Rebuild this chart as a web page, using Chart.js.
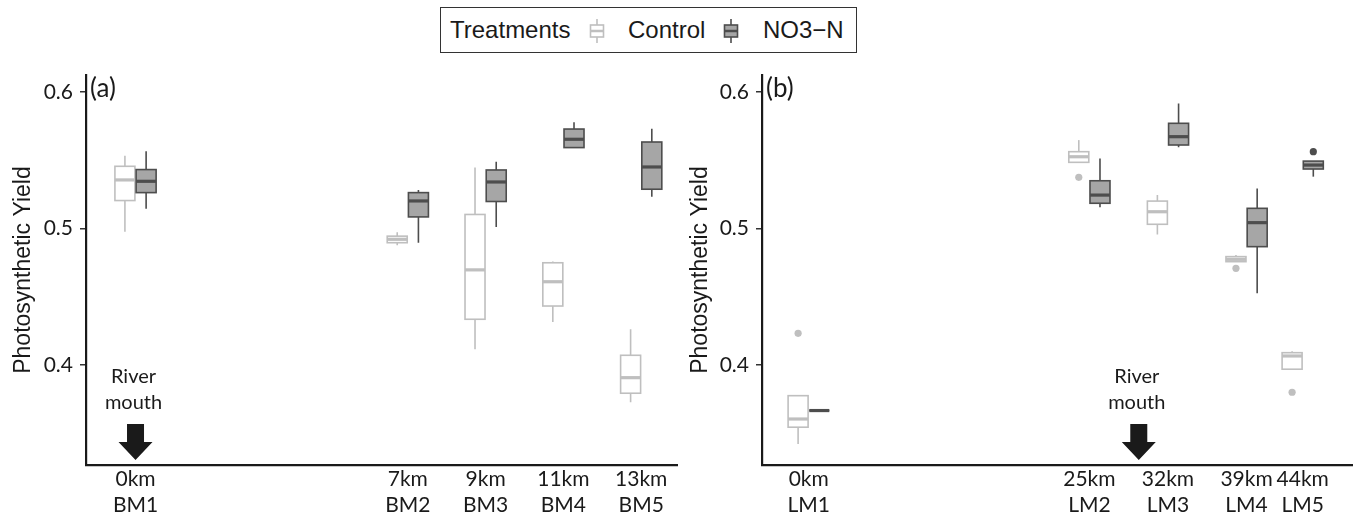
<!DOCTYPE html>
<html>
<head>
<meta charset="utf-8">
<script src="https://cdn.jsdelivr.net/npm/chart.js@4.4.1/dist/chart.umd.min.js"></script>
<style>
  body { margin: 0; background: #fff; }
  #wrap { position: relative; width: 1353px; height: 517px; overflow: hidden; }
  #chartA { position: absolute; left: 0; top: 0; }
  #chartB { position: absolute; left: 680px; top: 0; }
  .legend { position: absolute; left: 440px; top: 7px; width: 417px; height: 46px; box-sizing: border-box;
            border: 1.5px solid #333; background: #fff; z-index: 2;
            font-family: "Liberation Sans", Arial, sans-serif; font-size: 24px; color: #1a1a1a; }
  .legend span { position: absolute; top: 9px; line-height: 26px; }
  .legend svg { position: absolute; top: 11px; }
</style>
</head>
<body>
<div id="wrap">
  <canvas id="chartA" width="680" height="517"></canvas>
  <canvas id="chartB" width="673" height="517"></canvas>
  <div class="legend">
    <span style="left:9px">Treatments</span>
    <svg style="left:148px" width="16" height="24">
      <line x1="8" y1="0" x2="8" y2="24" stroke="#BFBFBF" stroke-width="1.6"/>
      <rect x="1.5" y="6" width="13" height="12" fill="#fff" stroke="#BFBFBF" stroke-width="1.6"/>
      <line x1="1.5" y1="12" x2="14.5" y2="12" stroke="#BFBFBF" stroke-width="2.5"/>
    </svg>
    <span style="left:187px">Control</span>
    <svg style="left:282px" width="16" height="24">
      <line x1="8" y1="0" x2="8" y2="24" stroke="#4D4D4D" stroke-width="1.6"/>
      <rect x="1.5" y="6" width="13" height="12" fill="#A6A6A6" stroke="#4D4D4D" stroke-width="1.6"/>
      <line x1="1.5" y1="12" x2="14.5" y2="12" stroke="#4D4D4D" stroke-width="2.5"/>
    </svg>
    <span style="left:322px">NO3&#8722;N</span>
  </div>
</div>
<script>
// panel (a) : stations BM
const bmStations = ['BM1', 'BM2', 'BM3', 'BM4', 'BM5'];
const bmKm = [0, 7, 9, 11, 13];
// [min, q1, mediane, q3, max]
const bmControl = [
  [0.4976, 0.5205, 0.5356, 0.5456, 0.5534],
  [0.4878, 0.4896, 0.4921, 0.4944, 0.4972],
  [0.4115, 0.4335, 0.4697, 0.5103, 0.5448],
  [0.4315, 0.4432, 0.4610, 0.4749, 0.4759],
  [0.3727, 0.3793, 0.3907, 0.4071, 0.4261]
];
const bmNitrate = [
  [0.5144, 0.5263, 0.5346, 0.5432, 0.5566],
  [0.4895, 0.5085, 0.5202, 0.5263, 0.5283],
  [0.5012, 0.5198, 0.5341, 0.5429, 0.5490],
  [0.5593, 0.5593, 0.5654, 0.5729, 0.5778],
  [0.5232, 0.5288, 0.5451, 0.5634, 0.5732]
];
const bmControlOut = [[], [], [], [], []];
const bmNitrateOut = [[], [], [], [], []];
const bmRiverKm = 0;

// panel (b) : stations LM
const lmStations = ['LM1', 'LM2', 'LM3', 'LM4', 'LM5'];
const lmKm = [0, 25, 32, 39, 44];
const lmControl = [
  [0.3421, 0.3544, 0.3604, 0.3775, 0.3775],
  [0.5485, 0.5485, 0.5526, 0.5563, 0.5648],
  [0.4957, 0.5031, 0.5123, 0.5201, 0.5245],
  [0.4757, 0.4757, 0.4774, 0.4794, 0.4806],
  [0.3969, 0.3969, 0.4066, 0.4090, 0.4100]
];
const lmNitrate = [
  [0.3666, 0.3666, 0.3666, 0.3666, 0.3666],
  [0.5155, 0.5185, 0.5245, 0.5350, 0.5514],
  [0.5595, 0.5612, 0.5673, 0.5771, 0.5917],
  [0.4525, 0.4867, 0.5043, 0.5148, 0.5294],
  [0.5380, 0.5436, 0.5465, 0.5494, 0.5494]
];
const lmControlOut = [[0.4232], [0.5375], [], [0.4708], [0.3800]];
const lmNitrateOut = [[], [], [], [], [0.5563]];
const lmRiverKm = 29.4;

const yTicks = [0.4, 0.5, 0.6];

const ctrlStyle = { stroke: '#BFBFBF', fill: '#FFFFFF', median: '#BFBFBF' };
const no3Style = { stroke: '#4D4D4D', fill: '#A6A6A6', median: '#4D4D4D' };

const tickFont = { family: 'Lato', size: 21 };

// dessine les boites a moustaches avec les echelles du graphique
function boxPlugin(km, control, nitrate, controlOut, nitrateOut, riverKm, label) {
  return {
    id: 'boxes',
    afterDatasetsDraw(chart) {
      const ctx = chart.ctx;
      const xs = chart.scales.x;
      const ys = chart.scales.y;
      const half = 10;

      function drawBox(xc, s, outs, st) {
        const [mn, q1, md, q3, mx] = s.map(v => ys.getPixelForValue(v));
        ctx.save();
        ctx.strokeStyle = st.stroke;
        ctx.lineWidth = 1.6;
        ctx.beginPath();
        ctx.moveTo(xc, mx); ctx.lineTo(xc, q3);
        ctx.moveTo(xc, q1); ctx.lineTo(xc, mn);
        ctx.stroke();
        ctx.fillStyle = st.fill;
        ctx.fillRect(xc - half, q3, half * 2, q1 - q3);
        ctx.strokeRect(xc - half, q3, half * 2, q1 - q3);
        ctx.strokeStyle = st.median;
        ctx.lineWidth = 3.2;
        ctx.beginPath();
        ctx.moveTo(xc - half, md); ctx.lineTo(xc + half, md);
        ctx.stroke();
        ctx.fillStyle = st.median;
        outs.forEach(v => {
          ctx.beginPath();
          ctx.arc(xc, ys.getPixelForValue(v), 3.6, 0, Math.PI * 2);
          ctx.fill();
        });
        ctx.restore();
      }

      km.forEach((k, i) => {
        const xc = xs.getPixelForValue(k);
        drawBox(xc - 10.6, control[i], controlOut[i], ctrlStyle);
        drawBox(xc + 10.6, nitrate[i], nitrateOut[i], no3Style);
      });

      // fleche embouchure
      const area = chart.chartArea;
      const ax = xs.getPixelForValue(riverKm);
      const tip = area.bottom - 5;
      ctx.save();
      ctx.fillStyle = '#1a1a1a';
      ctx.beginPath();
      ctx.moveTo(ax - 8.5, tip - 36);
      ctx.lineTo(ax + 8.5, tip - 36);
      ctx.lineTo(ax + 8.5, tip - 18);
      ctx.lineTo(ax + 17, tip - 18);
      ctx.lineTo(ax, tip);
      ctx.lineTo(ax - 17, tip - 18);
      ctx.lineTo(ax - 8.5, tip - 18);
      ctx.closePath();
      ctx.fill();
      ctx.font = '20px Lato';
      ctx.textAlign = 'center';
      ctx.textBaseline = 'middle';
      ctx.fillText('River', ax - 2, tip - 83);
      ctx.fillText('mouth', ax - 2, tip - 57);
      ctx.font = '26px Lato';
      ctx.textAlign = 'left';
      ctx.fillText(label, area.left + 4, 89);
      ctx.restore();
    }
  };
}

function makeChart(id, km, stations, xMin, xMax, yWidth, titlePad, padRight, plugin) {
  return new Chart(document.getElementById(id), {
    type: 'scatter',
    data: { datasets: [] },
    options: {
      responsive: false,
      animation: false,
      layout: { padding: { top: 75, right: padRight, left: 0, bottom: 0 } },
      plugins: { legend: { display: false }, tooltip: { enabled: false } },
      scales: {
        x: {
          type: 'linear',
          min: xMin,
          max: xMax,
          afterBuildTicks: axis => { axis.ticks = km.map(v => ({ value: v })); },
          afterFit: axis => { axis.height = 52; },
          grid: { display: true, drawOnChartArea: false, drawTicks: false },
          border: { display: true, color: '#1a1a1a', width: 2.2 },
          ticks: {
            autoSkip: false,
            maxRotation: 0,
            padding: 2,
            color: '#1a1a1a',
            font: tickFont,
            callback: v => [v + 'km', stations[km.indexOf(v)]]
          }
        },
        y: {
          type: 'linear',
          min: 0.3267,
          max: 0.6125,
          afterBuildTicks: axis => { axis.ticks = yTicks.map(v => ({ value: v })); },
          afterFit: axis => { axis.width = yWidth; },
          grid: { display: true, drawOnChartArea: false, drawTicks: true, tickLength: 6, color: '#333', lineWidth: 1.5 },
          border: { display: true, color: '#1a1a1a', width: 2.2 },
          ticks: {
            padding: 7,
            color: '#1a1a1a',
            font: tickFont,
            callback: v => v.toFixed(1)
          },
          title: {
            display: true,
            text: 'Photosynthetic Yield',
            color: '#1a1a1a',
            font: { family: '"Liberation Sans", Arial, sans-serif', size: 23 },
            padding: { top: titlePad, bottom: 0 }
          }
        }
      }
    },
    plugins: [plugin]
  });
}

window.addEventListener('DOMContentLoaded', () => {
  makeChart('chartA', bmKm, bmStations, -1.273, 13.92, 86, 10, 3,
    boxPlugin(bmKm, bmControl, bmNitrate, bmControlOut, bmNitrateOut, bmRiverKm, '(a)'));
  makeChart('chartB', lmKm, lmStations, -4.16, 48.48, 82, 7, 0,
    boxPlugin(lmKm, lmControl, lmNitrate, lmControlOut, lmNitrateOut, lmRiverKm, '(b)'));
});
</script>
</body>
</html>
